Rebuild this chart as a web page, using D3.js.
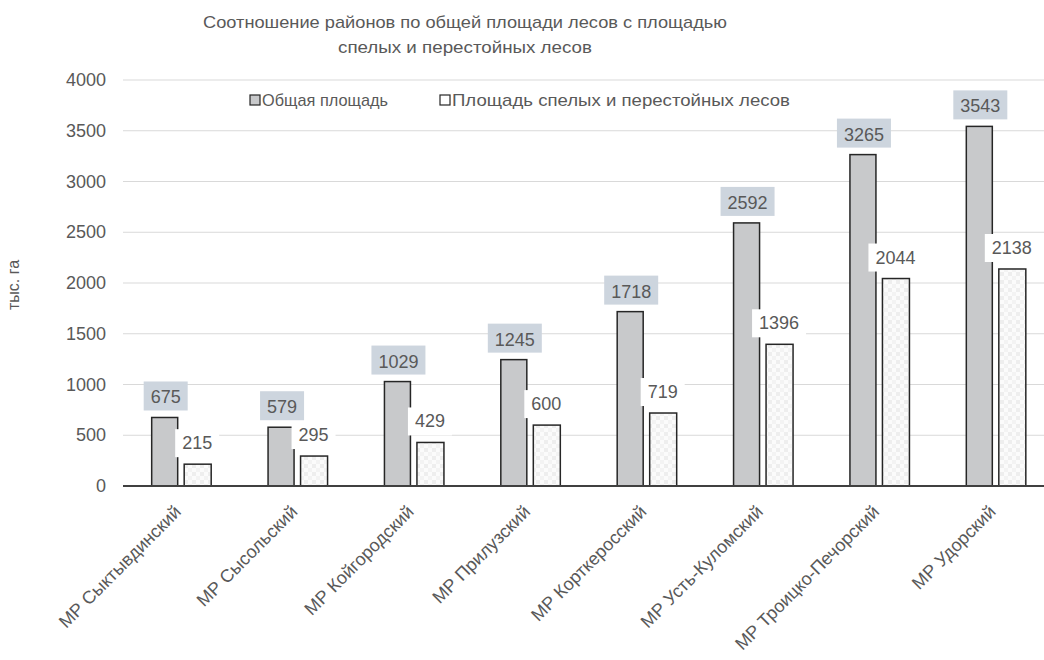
<!DOCTYPE html>
<meta charset="utf-8">
<style>
body { margin: 0; background: #fff; }
text { font-family: "Liberation Sans", Arial, sans-serif; fill: #595959; }
</style>
<svg width="1044" height="660"></svg>
<script src="https://d3js.org/d3.v7.min.js"></script>
<script>
var districts = ["МР Сыктывдинский", "МР Сысольский", "МР Койгородский", "МР Прилузский",
                 "МР Корткеросский", "МР Усть-Куломский", "МР Троицко-Печорский", "МР Удорский"];
var totalArea = [675, 579, 1029, 1245, 1718, 2592, 3265, 3543];
var matureArea = [215, 295, 429, 600, 719, 1396, 2044, 2138];
var yTicks = [0, 500, 1000, 1500, 2000, 2500, 3000, 3500, 4000];
var seriesNames = ["Общая площадь", "Площадь спелых и перестойных лесов"];

var svg = d3.select("svg");

// light pattern for the second series
var defs = svg.append("defs");
var pat = defs.append("pattern")
    .attr("id", "dots")
    .attr("width", 8).attr("height", 8)
    .attr("patternUnits", "userSpaceOnUse");
pat.append("rect").attr("width", 8).attr("height", 8).attr("fill", "#fbfbfb");
pat.append("rect").attr("x", 0).attr("y", 0).attr("width", 4).attr("height", 4).attr("fill", "#eeeeee");
pat.append("rect").attr("x", 4).attr("y", 4).attr("width", 4).attr("height", 4).attr("fill", "#f3f3f3");

var x = d3.scaleBand().domain(districts).range([123, 1054]);
var y = d3.scaleLinear().domain([0, 4000]).range([486, 80]);
var barW = 26;

// gridlines
svg.append("g").selectAll("line")
    .data(yTicks.filter(function(d) { return d > 0; }))
    .enter().append("line")
    .attr("x1", 123).attr("x2", 1044)
    .attr("y1", function(d) { return y(d); })
    .attr("y2", function(d) { return y(d); })
    .attr("stroke", "#d9d9d9").attr("stroke-width", 1);

// y tick labels
svg.append("g").selectAll("text")
    .data(yTicks)
    .enter().append("text")
    .attr("x", 106).attr("y", function(d) { return y(d) + 6; })
    .attr("text-anchor", "end")
    .style("font-size", "18px")
    .text(function(d) { return d; });

// bars
var groups = svg.append("g").selectAll("g")
    .data(districts)
    .enter().append("g");

groups.append("rect")
    .attr("x", function(d) { return x(d) + x.bandwidth() / 2 - 29.5; })
    .attr("y", function(d, i) { return y(totalArea[i]); })
    .attr("width", barW)
    .attr("height", function(d, i) { return y(0) - y(totalArea[i]); })
    .attr("fill", "#c8c9cb").attr("stroke", "#262626").attr("stroke-width", 1.5);

groups.append("rect")
    .attr("x", function(d) { return x(d) + x.bandwidth() / 2 + 3; })
    .attr("y", function(d, i) { return y(matureArea[i]); })
    .attr("width", barW + 1)
    .attr("height", function(d, i) { return y(0) - y(matureArea[i]); })
    .attr("fill", "url(#dots)").attr("stroke", "#262626").attr("stroke-width", 1.5);

// data labels, total area (grey-blue boxes)
groups.append("rect")
    .attr("x", function(d, i) { return x(d) + x.bandwidth() / 2 - 16.5 - String(totalArea[i]).length * 5 - 6; })
    .attr("y", function(d, i) { return y(totalArea[i]) - 36; })
    .attr("width", function(d, i) { return String(totalArea[i]).length * 10 + 14; })
    .attr("height", 29)
    .attr("fill", "#cdd5de");
groups.append("text")
    .attr("x", function(d) { return x(d) + x.bandwidth() / 2 - 15.5; })
    .attr("y", function(d, i) { return y(totalArea[i]) - 14; })
    .attr("text-anchor", "middle")
    .style("font-size", "18px")
    .text(function(d, i) { return totalArea[i]; });

// data labels, mature area (white boxes)
groups.append("rect")
    .attr("x", function(d, i) { return x(d) + x.bandwidth() / 2 + 16 - String(matureArea[i]).length * 5 - 7; })
    .attr("y", function(d, i) { return y(matureArea[i]) - 35; })
    .attr("width", function(d, i) { return String(matureArea[i]).length * 10 + 14; })
    .attr("height", 28)
    .attr("fill", "#fff");
groups.append("text")
    .attr("x", function(d) { return x(d) + x.bandwidth() / 2 + 16; })
    .attr("y", function(d, i) { return y(matureArea[i]) - 15; })
    .attr("text-anchor", "middle")
    .style("font-size", "18px")
    .text(function(d, i) { return matureArea[i]; });

// baseline
svg.append("line")
    .attr("x1", 123).attr("x2", 1044)
    .attr("y1", y(0)).attr("y2", y(0))
    .attr("stroke", "#404040").attr("stroke-width", 2);

// category labels
svg.append("g").selectAll("text")
    .data(districts)
    .enter().append("text")
    .attr("transform", function(d) {
        return "translate(" + (x(d) + x.bandwidth() / 2 + 1) + ",513) rotate(-45)";
    })
    .attr("text-anchor", "end")
    .style("font-size", "18px")
    .text(function(d) { return d; });

// y axis title
svg.append("text")
    .attr("transform", "translate(19,285) rotate(-90)")
    .attr("text-anchor", "middle")
    .style("font-size", "16px")
    .text("тыс. га");

// chart title
var title = svg.append("text")
    .attr("text-anchor", "middle")
    .style("font-size", "17px");
title.append("tspan").attr("x", 465).attr("y", 28)
    .attr("textLength", 524).attr("lengthAdjust", "spacingAndGlyphs")
    .text("Соотношение районов по общей площади лесов с площадью");
title.append("tspan").attr("x", 465).attr("y", 53)
    .attr("textLength", 254).attr("lengthAdjust", "spacingAndGlyphs")
    .text("спелых и перестойных лесов");

// legend
var legendX = [250, 440];
var legendLen = [126, 338];
var legendFill = ["#c8c9cb", "#fff"];
var legend = svg.append("g").selectAll("g")
    .data(seriesNames)
    .enter().append("g")
    .attr("transform", function(d, i) { return "translate(" + legendX[i] + ",95)"; });
legend.append("rect")
    .attr("width", 10).attr("height", 10)
    .attr("fill", function(d, i) { return legendFill[i]; })
    .attr("stroke", "#262626").attr("stroke-width", 1.2);
legend.append("text")
    .attr("x", 12).attr("y", 11)
    .attr("textLength", function(d, i) { return legendLen[i]; })
    .attr("lengthAdjust", "spacingAndGlyphs")
    .style("font-size", "17px")
    .text(function(d) { return d; });
</script>
